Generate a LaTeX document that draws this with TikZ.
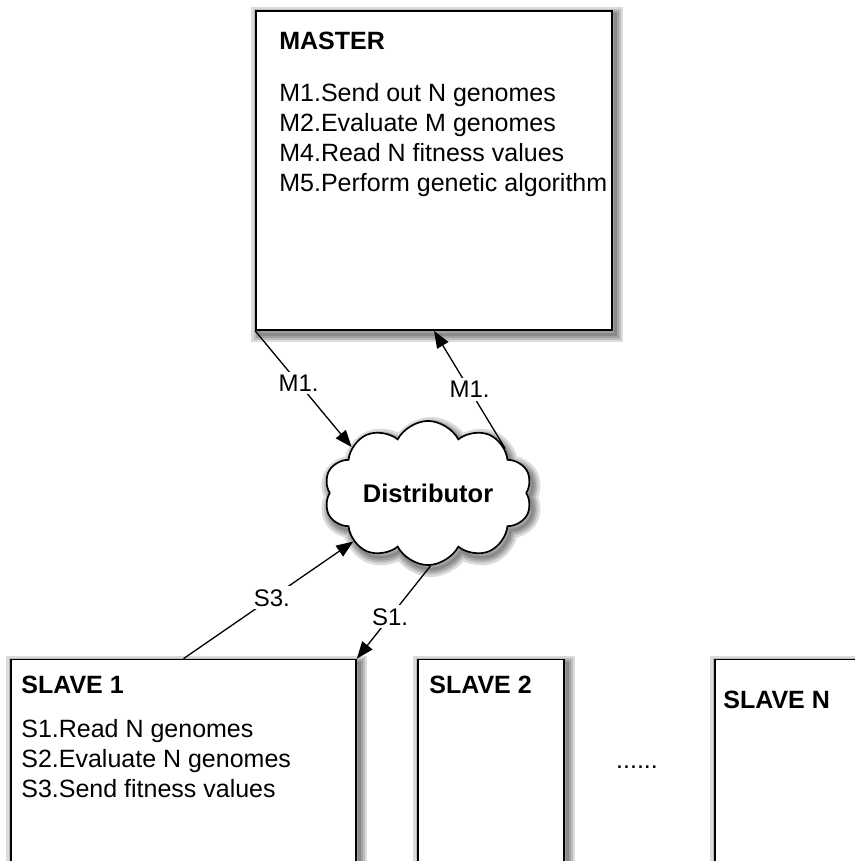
\documentclass[tikz,border=0pt]{standalone}
\usepackage{fontspec}
\setmainfont{Liberation Sans}
\usetikzlibrary{positioning,shapes.symbols,arrows.meta}

\tikzset{
  haze/.style ={preaction={draw=black, opacity=.14, line width=#1,
                           transform canvas={xshift=3pt, yshift=-4pt}}},
  shade4/.style ={haze=16pt, haze=11pt, haze=7pt, haze=3pt}
}

\begin{document}
\begin{tikzpicture}[x=1pt, y=1pt,
          box/.style ={draw, line width=1.7, fill=white, rectangle, shade4},
          link/.style ={line width=1.3, -{Triangle[length=17pt,width=13pt]}},
          tag/.style ={fill=white, inner sep=3pt, font=\fontsize{24}{28}\selectfont},
          txt/.style ={inner sep=0, align=left, font=\fontsize{25}{30}\selectfont}
          ]
\useasboundingbox (0,0) rectangle (854,-861);

% boxes
\node[box, minimum width=356, minimum height=319] (master) at (434,-170.5) {};
\node[box, minimum width=345, minimum height=300] (slaveA) at (183.5,-809.5) {};
\node[box, minimum width=146, minimum height=300] (slaveB) at (491,-809.5) {};
\node[box, minimum width=170, minimum height=300] (slaveN) at (800,-809.5) {};

% cloud
\node[box, cloud, cloud puffs=10, cloud puff arc=125, aspect=1.6, inner sep=0,
      minimum width=208, minimum height=133,
      font=\fontsize{25.5}{30}\selectfont\bfseries] (dist) at (428,-493) {Distributor};

% texts
\node[txt, below right=22pt and 24pt of master.north west] (mtxt) {\textbf{MASTER}\\[22pt]
  M1.Send out N genomes\\
  M2.Evaluate M genomes\\
  M4.Read N fitness values\\
  M5.Perform genetic algorithm};
\node[txt, below right=17.5pt and 11pt of slaveA.north west] (atxt) {\textbf{SLAVE 1}\\[14pt]
  S1.Read N genomes\\
  S2.Evaluate N genomes\\
  S3.Send fitness values};
\node[txt, below right=17.5pt and 12pt of slaveB.north west] (btxt) {\textbf{SLAVE 2}};
\node[txt, below right=32pt and 9pt of slaveN.north west] (ntxt) {\textbf{SLAVE N}};
\node[txt, anchor=base] (dots) at (637,-768) {......};

% connectors
\draw[link] (master.south west) -- node[tag, pos=.45] {M1.} (dist.149);
\draw[link] (dist.30) -- node[tag, pos=.5] {M1.} (master.south);
\draw[link] (slaveA.north) -- node[tag, pos=.52] {S3.} (dist.213);
\draw[link] (dist.272) -- node[tag, pos=.55] {S1.} (slaveA.north east);
\end{tikzpicture}
\end{document}
